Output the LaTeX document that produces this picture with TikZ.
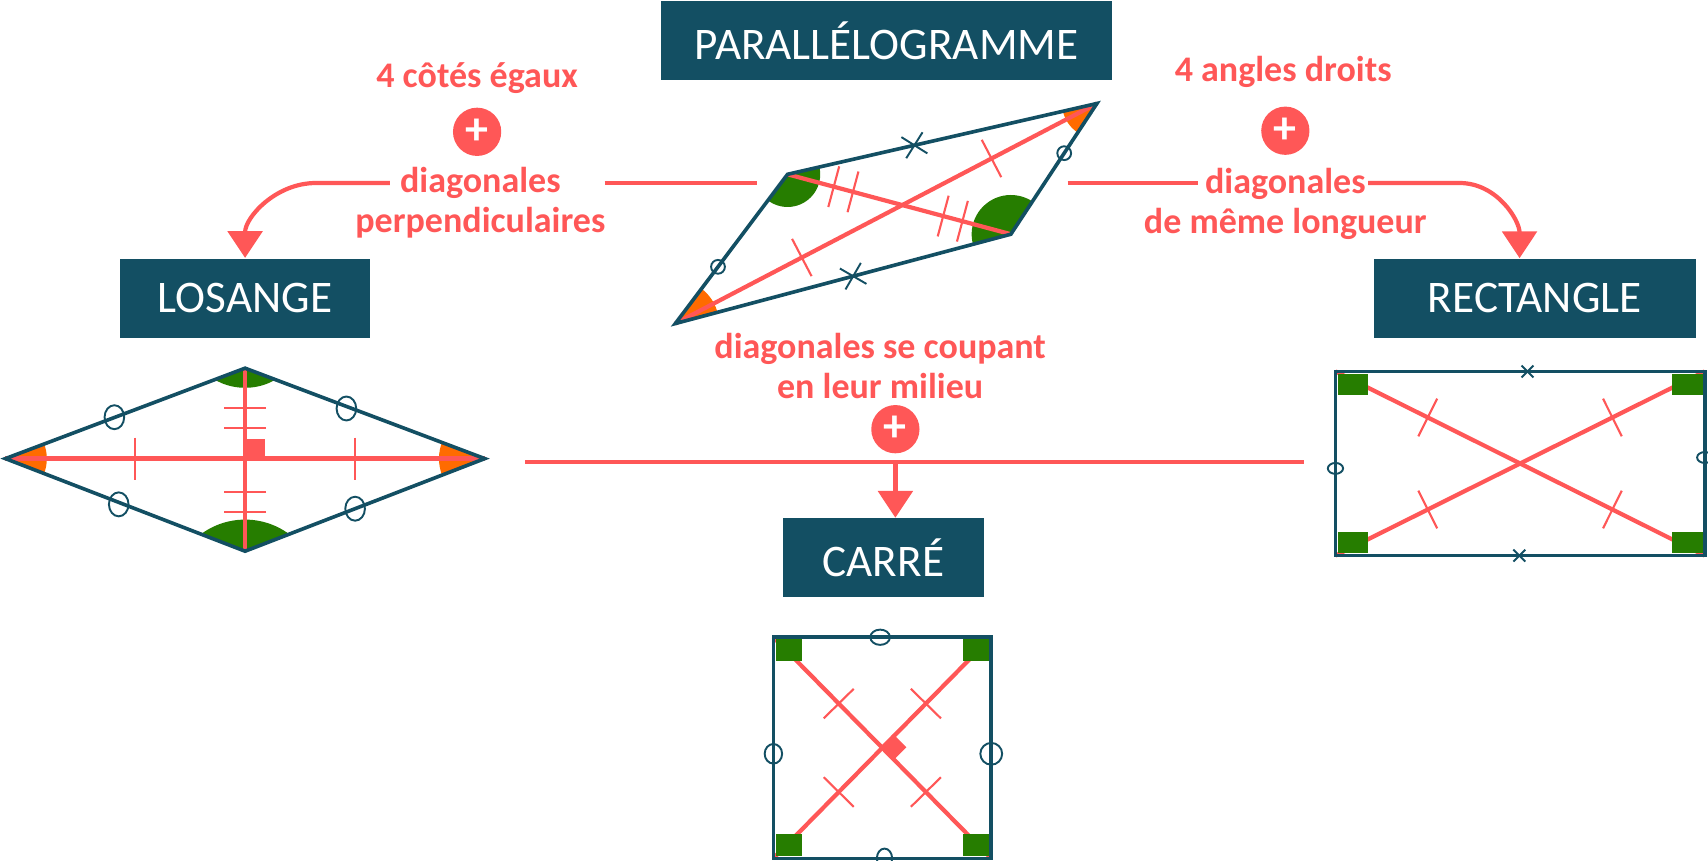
\documentclass[tikz,border=0pt]{standalone}
\usepackage{fontspec}
\setmainfont{Carlito}
\usetikzlibrary{calc,arrows.meta}
\definecolor{teal}{HTML}{134F63}
\definecolor{rd}{HTML}{FF5757}
\definecolor{gr}{HTML}{267D00}
\definecolor{og}{HTML}{FF6B00}
\newcommand{\tk}[3]{\path coordinate (tm) at ($(#1)!#3!(#2)$);
  \draw ($(tm)!5.5pt!90:(#2)$) -- ($(tm)!5.5pt!-90:(#2)$);}
\newcommand{\dtk}[3]{\path coordinate (ta) at ($(#1)!#3!(#2)$) coordinate (tb) at ($(ta)!2.6pt!(#2)$) coordinate (tc) at ($(ta)!-2.6pt!(#2)$);
  \draw ($(tb)!5.5pt!90:(#2)$) -- ($(tb)!5.5pt!-90:(#2)$); \draw ($(tc)!5.5pt!90:(tb)$) -- ($(tc)!5.5pt!-90:(tb)$);}
\newcommand{\crs}[4]{\path coordinate (tm) at ($(#1)!#3!(#2)$);
  \draw ($(tm)!#4!45:(#2)$) -- ($(tm)!#4!225:(#2)$); \draw ($(tm)!#4!135:(#2)$) -- ($(tm)!#4!315:(#2)$);}
\newcommand{\crc}[3]{\path coordinate (tm) at ($(#1)!#3!(#2)$); \draw (tm) circle (1.8pt);}
\begin{document}
\begin{tikzpicture}[x=0.01cm,y=-0.01cm,
  box/.style={fill=teal,text=white,font=\fontsize{11.8}{14}\selectfont,inner sep=0pt},
  lab/.style={text=rd,font=\bfseries\fontsize{9.4}{10.3}\selectfont,align=center,inner sep=0pt},
  plus/.style={circle,fill=rd,minimum size=12.6pt,inner sep=0pt,text=white,font=\bfseries\fontsize{12}{12}\selectfont},
  rl/.style={draw=rd,line width=1.1pt},
  tl/.style={draw=teal,line width=0.95pt},
  tip/.style={-{Triangle[length=7pt,width=9pt]}}]
\useasboundingbox (0,0) rectangle (1568,790);
% boxes
\node[box,minimum width=4.14cm,minimum height=0.72cm] (para) at (814,37) {PARALLÉLOGRAMME};
\node[box,minimum width=2.29cm,minimum height=0.73cm] (los) at (225,274) {LOSANGE};
\node[box,minimum width=2.95cm,minimum height=0.73cm] (rec) at (1409,274) {RECTANGLE};
\node[box,minimum width=1.84cm,minimum height=0.72cm] (car) at (811,512) {CARRÉ};
% labels
\node[lab] (l1) at (438,72) {4 côtés égaux};
\node[plus] (p1) at (438,121) {+};
\node[lab] (l2) at (441,186) {diagonales\\perpendiculaires};
\node[lab] (r1) at (1178,66) {4 angles droits};
\node[plus] (p2) at (1180,120) {+};
\node[lab] (r2) at (1180,187) {diagonales\\de même longueur};
\node[lab] (c1) at (808,336) {diagonales se coupant\\en leur milieu};
\node[plus] (p3) at (822,394) {+};
% connectors
\coordinate (a1) at (555,168); \coordinate (a2) at (695,168);
\draw[rl] (a1) -- (a2);
\coordinate (a3) at (358,168);
\draw[rl,tip] (a3) -- (290,168) to[out=180,in=90] (los.north);
\coordinate (b1) at (980,168); \coordinate (b2) at (1100,168);
\draw[rl] (b1) -- (b2);
\coordinate (b3) at (1256,168);
\draw[rl,tip] (b3) -- (1340,168) to[out=0,in=90] (1395,237);
\coordinate (h1) at (482,424); \coordinate (h2) at (1197,424); \coordinate (hm) at (822,424);
\draw[rl] (h1) -- (h2);
\draw[rl,tip] (hm) -- (hm |- car.north);
% parallelogram
\coordinate (PA) at (620,297); \coordinate (PB) at (723,160); \coordinate (PC) at (1007,95); \coordinate (PD) at (928,215);
\begin{scope}\clip (PA)--(PB)--(PC)--(PD)--cycle;
\fill[og] (PA) circle (40); \fill[og] (PC) circle (32);
\fill[gr] (PB) circle (30); \fill[gr] (PD) circle (36);
\end{scope}
\draw[rl] (PA)--(PC); \draw[rl] (PB)--(PD);
\begin{scope}[rd,line width=0.55pt]
\tk{PA}{PC}{0.30} \tk{PA}{PC}{0.75} \dtk{PB}{PD}{0.25} \dtk{PB}{PD}{0.74}
\end{scope}
\draw[tl,line join=miter] (PA)--(PB)--(PC)--(PD)--cycle;
\begin{scope}[teal,line width=0.5pt]
\crs{PB}{PC}{0.41}{4pt} \crs{PA}{PD}{0.53}{4pt} \crc{PA}{PB}{0.38} \crc{PD}{PC}{0.62}
\end{scope}
% rhombus
\coordinate (LA) at (5,421); \coordinate (LB) at (225,338); \coordinate (LC) at (445,421); \coordinate (LD) at (225,506); \coordinate (LO) at (225,421);
\begin{scope}\clip (LA)--(LB)--(LC)--(LD)--cycle;
\fill[og] (LA) circle (38); \fill[og] (LC) circle (42);
\fill[gr] (225,300) circle (56); \fill[gr] (225,545) circle (68);
\end{scope}
\draw[rl] (LA)--(LC); \draw[rl] (LB)--(LD);
\fill[rd] (LO) rectangle (243,403);
\begin{scope}[rd,line width=0.55pt]
\tk{LA}{LC}{0.27} \tk{LA}{LC}{0.73} \dtk{LB}{LD}{0.27} \dtk{LB}{LD}{0.73}
\end{scope}
\draw[tl] (LA)--(LB)--(LC)--(LD)--cycle;
\begin{scope}[teal,line width=0.5pt]
\draw (105,383) ellipse (9 and 11); \draw (318,375) ellipse (9 and 11);
\draw (109,463) ellipse (9 and 11); \draw (326,467) ellipse (9 and 11);
\end{scope}
% rectangle
\coordinate (RA) at (1226,341); \coordinate (RB) at (1565,341); \coordinate (RC) at (1565,510); \coordinate (RD) at (1226,510);
\draw[rl] (RA)--(RC); \draw[rl] (RB)--(RD);
\begin{scope}[rd,line width=0.55pt]
\tk{RA}{RC}{0.25} \tk{RA}{RC}{0.75} \tk{RB}{RD}{0.25} \tk{RB}{RD}{0.75}
\end{scope}
\fill[gr] (1228,343) rectangle +(28,20); \fill[gr] (1563,343) rectangle +(-28,20);
\fill[gr] (1228,508) rectangle +(28,-20); \fill[gr] (1563,508) rectangle +(-28,-20);
\draw[tl] (RA) rectangle (RC);
\begin{scope}[teal,line width=0.5pt]
\crs{RA}{RB}{0.52}{2.2pt} \crs{RD}{RC}{0.498}{2.2pt}
\draw (1226,430) ellipse (7 and 5); \draw (1565,420) ellipse (7 and 5);
\end{scope}
% square
\coordinate (SA) at (710,585); \coordinate (SB) at (910,585); \coordinate (SC) at (910,788); \coordinate (SD) at (710,788); \coordinate (SO) at (820,686);
\draw[rl] (SA)--(SC); \draw[rl] (SB)--(SD);
\fill[rd] (SO) ++(0,-12) -- ++(12,12) -- ++(-12,12) -- ++(-12,-12) -- cycle;
\begin{scope}[rd,line width=0.55pt]
\tk{SA}{SC}{0.3} \tk{SA}{SC}{0.7} \tk{SB}{SD}{0.3} \tk{SB}{SD}{0.7}
\end{scope}
\fill[gr] (712,587) rectangle +(24,20); \fill[gr] (908,587) rectangle +(-24,20);
\fill[gr] (712,786) rectangle +(24,-20); \fill[gr] (908,786) rectangle +(-24,-20);
\draw[tl] (SA) rectangle (SC);
\begin{scope}[teal,line width=0.5pt]
\draw (808,585) ellipse (9 and 7); \draw (812,788) ellipse (7 and 9);
\draw (710,692) ellipse (8 and 9); \draw (910,692) ellipse (10 and 10);
\end{scope}
\end{tikzpicture}
\end{document}
